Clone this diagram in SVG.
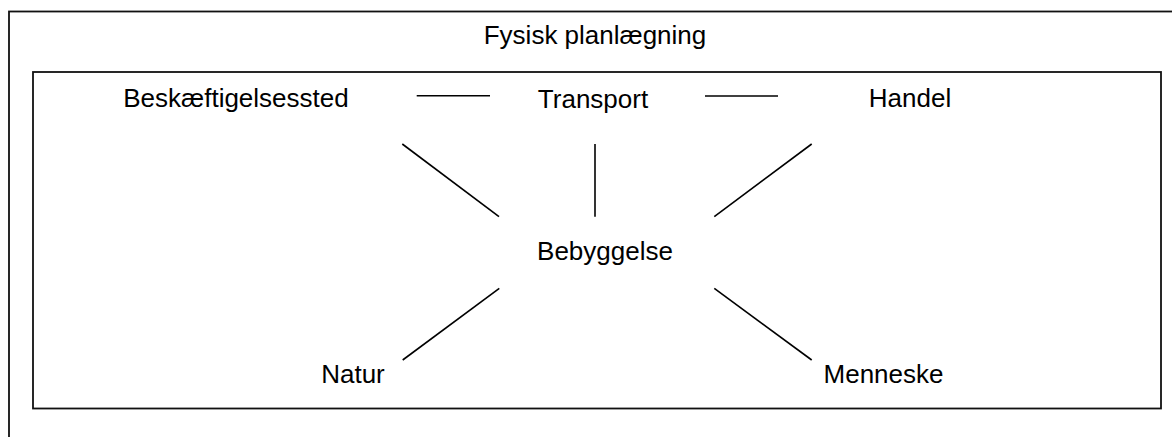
<svg xmlns="http://www.w3.org/2000/svg" width="1172" height="437" viewBox="0 0 1172 437">
<style>
text{font-family:"Liberation Sans",Arial,sans-serif;font-size:26px;fill:#000;text-anchor:middle}
.frame{fill:none;stroke:#111;stroke-width:1.8}
.conn line{stroke:#000;stroke-width:1.6;fill:none}
</style>
<rect width="1172" height="437" fill="#fff"/>
<g id="fysisk-planlaegning">
<rect class="frame" x="9" y="11.5" width="1180" height="440"/>
<text x="595" y="44">Fysisk planlægning</text>
</g>
<g id="inner-frame">
<rect class="frame" x="33" y="72" width="1128" height="336.5"/>
</g>
<g id="beskaeftigelsessted"><text x="236" y="107">Beskæftigelsessted</text></g>
<g id="transport"><text x="593" y="108">Transport</text></g>
<g id="handel"><text x="910" y="107">Handel</text></g>
<g id="bebyggelse"><text x="605" y="260">Bebyggelse</text></g>
<g id="natur"><text x="353" y="383">Natur</text></g>
<g id="menneske"><text x="883.5" y="383">Menneske</text></g>
<g id="connectors" class="conn">
<line x1="416.7" y1="95.7" x2="490" y2="95.7"/>
<line x1="705" y1="96" x2="778" y2="96"/>
<line x1="402.3" y1="144" x2="499" y2="216.7"/>
<line x1="595" y1="144" x2="595" y2="216.7"/>
<line x1="714.3" y1="216.7" x2="811.7" y2="144"/>
<line x1="402.7" y1="360" x2="499.3" y2="288.3"/>
<line x1="714.3" y1="288.3" x2="811.7" y2="360"/>
</g>
</svg>
